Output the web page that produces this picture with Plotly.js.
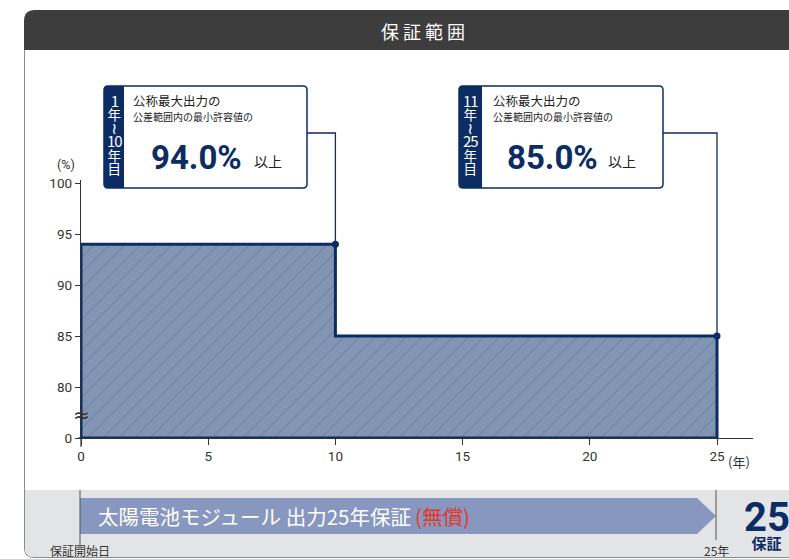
<!DOCTYPE html>
<html>
<head>
<meta charset="utf-8">
<script src="https://cdn.plot.ly/plotly-3.0.1.min.js"></script>
<style>html,body{margin:0;padding:0;background:#fff;}#chart{width:789px;height:559px;}</style>
</head>
<body>
<div id="chart"></div>
<script>
// ---- data ----
const periodStartYears = [0, 10];
const periodEndYears = [10, 25];
const minOutputPct = [94.0, 85.0];
const periodLabels = [["1","年","～","10","年","目"], ["11","年","～","25","年","目"]];
const xTickVals = [0, 5, 10, 15, 20, 25];
const xTickText = ["0", "5", "10", "15", "20", "25"];
const yTickVals = [75, 80, 85, 90, 95, 100];   // 75 = axis-break base shown as "0"
const yTickText = ["0", "80", "85", "90", "95", "100"];
const warrantyYears = 25;

// ---- layout geometry ----
const W = 789, H = 559, ML = 81, MR = 36, MT = 180, MB = 121;
const PW = W - ML - MR, PH = H - MT - MB;
const X0 = 0, X1 = PW / 25.44;
const Y0 = 75, Y1 = 75 + PH / 10.2;
const X = p => (p - ML) / PW;
const Y = p => (H - MB - p) / PH;
const dx = v => (v - X0) / (X1 - X0);
const dy = v => (v - Y0) / (Y1 - Y0);
const NAVY = '#0c2d63';
const base = yTickVals[0];

// polygon from data
const polyX = [periodStartYears[0]], polyY = [base];
for (let i = 0; i < minOutputPct.length; i++) {
  polyX.push(periodStartYears[i], periodEndYears[i]);
  polyY.push(minOutputPct[i], minOutputPct[i]);
}
polyX.push(periodEndYears[periodEndYears.length - 1], periodStartYears[0]);
polyY.push(base, base);

const traces = [
  {
    type: 'scatter', mode: 'lines', x: polyX, y: polyY, fill: 'toself',
    fillcolor: '#8296b4',
    fillpattern: {shape: '/', bgcolor: '#8296b4', fgcolor: '#6c82a6', size: 11, solidity: 0.1},
    line: {color: NAVY, width: 3}, hoverinfo: 'skip', showlegend: false, cliponaxis: false
  },
  {
    type: 'scatter', mode: 'markers', x: periodEndYears, y: minOutputPct,
    marker: {color: NAVY, size: 7}, showlegend: false, cliponaxis: false
  }
];

function P(x, y) { return X(x).toFixed(5) + ',' + Y(y).toFixed(5); }
function roundRect(x0, y0, x1, y1, r) {
  return 'M' + P(x0 + r, y0) + ' L' + P(x1 - r, y0) + ' Q' + P(x1, y0) + ' ' + P(x1, y0 + r) +
    ' L' + P(x1, y1 - r) + ' Q' + P(x1, y1) + ' ' + P(x1 - r, y1) +
    ' L' + P(x0 + r, y1) + ' Q' + P(x0, y1) + ' ' + P(x0, y1 - r) +
    ' L' + P(x0, y0 + r) + ' Q' + P(x0, y0) + ' ' + P(x0 + r, y0) + ' Z';
}
function leftRound(x0, y0, x1, y1, r) {
  return 'M' + P(x0 + r, y0) + ' L' + P(x1, y0) + ' L' + P(x1, y1) + ' L' + P(x0 + r, y1) +
    ' Q' + P(x0, y1) + ' ' + P(x0, y1 - r) + ' L' + P(x0, y0 + r) + ' Q' + P(x0, y0) + ' ' + P(x0 + r, y0) + ' Z';
}

const shapes = [];
const annotations = [];
const JP = '"Noto Sans CJK JP", "Noto Sans", sans-serif';
const NUM = 'Roboto, "Noto Sans CJK JP", sans-serif';

// header
shapes.push({type: 'path', xref: 'paper', yref: 'paper', layer: 'above',
  path: 'M' + P(24, 50) + ' L' + P(24, 21) + ' Q' + P(24, 10) + ' ' + P(35, 10) + ' L' + P(800, 10) + ' L' + P(800, 50) + ' Z',
  fillcolor: '#3d3d3d', line: {width: 0}});
annotations.push({xref: 'paper', yref: 'paper', x: X(423), y: Y(31), text: '保 証 範 囲', showarrow: false,
  font: {family: JP, size: 18, color: '#ffffff'}, xanchor: 'center', yanchor: 'middle'});
// frame left border
shapes.push({type: 'path', xref: 'paper', yref: 'paper', layer: 'below',
  path: 'M' + P(24.5, 50) + ' L' + P(24.5, 548) + ' Q' + P(24.5, 557.5) + ' ' + P(34, 557.5) + ' L' + P(800, 557.5),
  line: {color: '#8a8a8a', width: 1}});
// bottom band
shapes.push({type: 'path', xref: 'paper', yref: 'paper', layer: 'below',
  path: 'M' + P(25, 490) + ' L' + P(800, 490) + ' L' + P(800, 557) + ' L' + P(34, 557) + ' Q' + P(25, 557) + ' ' + P(25, 548) + ' Z',
  fillcolor: '#e3e4e6', line: {width: 0}});
// arrow
shapes.push({type: 'path', xref: 'paper', yref: 'paper', layer: 'above',
  path: 'M' + P(80, 498) + ' L' + P(697, 498) + ' L' + P(716, 516) + ' L' + P(697, 534) + ' L' + P(80, 534) + ' Z',
  fillcolor: '#8797c0', line: {width: 0}});
// band vertical markers
shapes.push({type: 'line', xref: 'paper', yref: 'paper', layer: 'above', x0: X(80), x1: X(80), y0: Y(490), y1: Y(546), line: {color: '#555', width: 1}});
shapes.push({type: 'line', xref: 'paper', yref: 'paper', layer: 'above', x0: X(716), x1: X(716), y0: Y(490), y1: Y(540), line: {color: '#555', width: 1}});
annotations.push({xref: 'paper', yref: 'paper', x: X(96), y: Y(516), xanchor: 'left', yanchor: 'middle', showarrow: false,
  text: '太陽電池モジュール 出力' + warrantyYears + '年保証\u2009<span style="color:#e5372a">(無償)</span>',
  font: {family: JP, size: 20.5, color: '#ffffff'}});
annotations.push({xref: 'paper', yref: 'paper', x: X(48), y: Y(550), xanchor: 'left', yanchor: 'middle', showarrow: false,
  text: '保証開始日', font: {family: JP, size: 12, color: '#333'}});
annotations.push({xref: 'paper', yref: 'paper', x: X(716), y: Y(550), xanchor: 'center', yanchor: 'middle', showarrow: false,
  text: warrantyYears + '年', font: {family: JP, size: 12, color: '#333'}});
annotations.push({xref: 'paper', yref: 'paper', x: X(742), y: Y(523), xanchor: 'left', yanchor: 'middle', showarrow: false, align: 'left',
  text: '<span style="font-size:40px;font-weight:bold;font-family:Roboto">' + warrantyYears + '</span><span style="font-size:18px;font-weight:bold">年</span>' +
        '<br><span style="font-size:15px;font-weight:bold">\u2002保証</span>',
  font: {family: JP, size: 13.5, color: NAVY}});

// axis extras
shapes.push({type: 'line', xref: 'paper', yref: 'paper', layer: 'above', x0: 0, x1: 0, y0: Y(438), y1: Y(447), line: {color: '#333', width: 1.2}});
shapes.push({type: 'line', xref: 'paper', yref: 'paper', layer: 'above', x0: X(78), x1: 0, y0: 0, y1: 0, line: {color: '#333', width: 1.2}});
annotations.push({xref: 'paper', yref: 'paper', x: X(66), y: Y(165), xanchor: 'center', yanchor: 'middle', showarrow: false,
  text: '(%)', font: {family: NUM, size: 12.5, color: '#333'}});
annotations.push({xref: 'paper', yref: 'paper', x: X(726), y: Y(461), xanchor: 'left', yanchor: 'middle', showarrow: false,
  text: '(年)', font: {family: JP, size: 13, color: '#333'}});
annotations.push({xref: 'paper', yref: 'paper', x: 0, y: Y(415), xanchor: 'center', yanchor: 'middle', showarrow: false,
  text: '≈', font: {family: 'DejaVu Sans', size: 20, color: '#333'}});

// callout boxes
const boxes = [
  {x0: 104, x1: 307, strip: 124, tx: 131, bigx: 149, ijx: 252, leaderY: 133},
  {x0: 459, x1: 663, strip: 482, tx: 491, bigx: 505, ijx: 606, leaderY: 133}
];
boxes.forEach((b, i) => {
  shapes.push({type: 'path', xref: 'paper', yref: 'paper', layer: 'above', path: roundRect(b.x0, 86, b.x1, 188, 4),
    fillcolor: '#ffffff', line: {color: NAVY, width: 1.5}});
  shapes.push({type: 'path', xref: 'paper', yref: 'paper', layer: 'above', path: leftRound(b.x0, 86, b.strip, 188, 4),
    fillcolor: NAVY, line: {width: 0}});
  // leader
  const px = dx(periodEndYears[i]), py = dy(minOutputPct[i]);
  shapes.push({type: 'path', xref: 'paper', yref: 'paper', layer: 'above',
    path: 'M' + px + ',' + py + ' L' + px + ',' + Y(b.leaderY) + ' L' + X(b.x1) + ',' + Y(b.leaderY),
    line: {color: NAVY, width: 1.3}});
  const sx = (b.x0 + b.strip) / 2;
  const stripText = periodLabels[i].map(t => {
    if (t === '～') return '<span style="font-size:16px;font-family:DejaVu Sans">≀</span>';
    if (/\d/.test(t)) return '<span style="font-size:15px;letter-spacing:-1px">' + t + '</span>';
    return '<span style="font-size:13.5px">' + t + '</span>';
  }).join('<br>');
  annotations.push({xref: 'paper', yref: 'paper', x: X(sx), y: Y(134), xanchor: 'center', yanchor: 'middle', showarrow: false,
    align: 'center', text: stripText, font: {family: JP, size: 10.3, color: '#ffffff'}});
  annotations.push({xref: 'paper', yref: 'paper', x: X(b.tx), y: Y(101), xanchor: 'left', yanchor: 'middle', showarrow: false,
    text: '公称最大出力の', font: {family: JP, size: 12.5, color: '#222'}});
  annotations.push({xref: 'paper', yref: 'paper', x: X(b.tx), y: Y(116.5), xanchor: 'left', yanchor: 'middle', showarrow: false,
    text: '公差範囲内の最小許容値の', font: {family: JP, size: 10, color: '#222'}});
  annotations.push({xref: 'paper', yref: 'paper', x: X(b.bigx), y: Y(157), xanchor: 'left', yanchor: 'middle', showarrow: false,
    text: '<b>' + minOutputPct[i].toFixed(1) + '%</b>', font: {family: 'Roboto, sans-serif', size: 33, color: NAVY, weight: 900}});
  annotations.push({xref: 'paper', yref: 'paper', x: X(b.ijx), y: Y(161), xanchor: 'left', yanchor: 'middle', showarrow: false,
    text: '以上', font: {family: JP, size: 14, color: '#222'}});
});

const layout = {
  width: W, height: H,
  margin: {l: ML, r: MR, t: MT, b: MB, pad: 0},
  paper_bgcolor: '#ffffff', plot_bgcolor: 'rgba(0,0,0,0)',
  showlegend: false,
  xaxis: {range: [X0, X1], tickvals: xTickVals, ticktext: xTickText, showgrid: false, zeroline: false,
    showline: true, linecolor: '#333', linewidth: 1.2, ticks: 'outside', ticklen: 6, tickcolor: '#333', tickwidth: 1,
    tickfont: {family: NUM, size: 13.5, color: '#333'}, fixedrange: true},
  yaxis: {range: [Y0, Y1], tickvals: yTickVals, ticktext: yTickText, showgrid: false, zeroline: false,
    showline: true, linecolor: '#333', linewidth: 1.2, ticks: 'outside', ticklen: 5, tickcolor: '#333', tickwidth: 1,
    tickfont: {family: NUM, size: 13.5, color: '#333'}, fixedrange: true},
  shapes: shapes, annotations: annotations
};

Plotly.newPlot('chart', traces, layout, {displayModeBar: false, staticPlot: true});
</script>
</body>
</html>
